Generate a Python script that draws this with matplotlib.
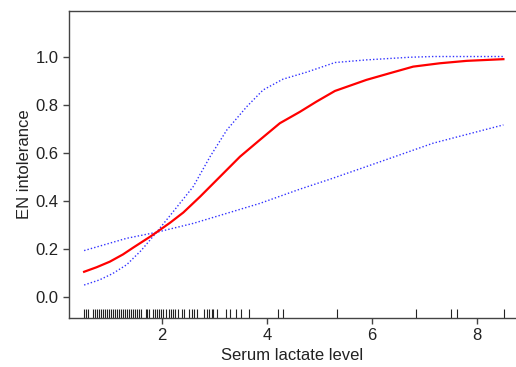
import matplotlib
matplotlib.use("Agg")
import matplotlib.pyplot as plt
import matplotlib.transforms as mtransforms

plt.rcParams['font.family'] = ['Liberation Sans', 'DejaVu Sans']

# Fitted curve (red)
fit_x = [0.51, 0.75, 1.00, 1.25, 1.45, 1.77, 1.89, 2.15, 2.40, 2.72, 3.10, 3.48, 3.86, 4.24, 4.62, 4.94, 5.29, 5.89, 6.34, 6.78, 7.29, 7.80, 8.50]
fit_y = [0.106, 0.125, 0.148, 0.178, 0.207, 0.252, 0.270, 0.310, 0.352, 0.418, 0.501, 0.584, 0.654, 0.723, 0.770, 0.813, 0.857, 0.903, 0.931, 0.958, 0.972, 0.982, 0.989]

# Steep confidence bound (blue)
ci1_x = [0.51, 0.80, 1.05, 1.32, 1.60, 1.89, 2.15, 2.59, 2.91, 3.23, 3.61, 3.92, 4.30, 4.75, 5.29, 5.89, 6.72, 7.16, 8.50]
ci1_y = [0.051, 0.072, 0.098, 0.135, 0.195, 0.270, 0.340, 0.46, 0.584, 0.695, 0.792, 0.861, 0.906, 0.935, 0.975, 0.986, 0.997, 1.0, 1.0]

# Flat confidence bound (blue)
ci2_x = [0.51, 1.32, 1.89, 2.59, 3.86, 4.62, 5.19, 5.89, 7.16, 8.50]
ci2_y = [0.194, 0.245, 0.270, 0.307, 0.39, 0.449, 0.49, 0.543, 0.64, 0.716]

# Rug of observed lactate values
rug = [0.51, 0.55, 0.59, 0.67, 0.72, 0.76, 0.79, 0.83, 0.87, 0.91, 0.95, 0.99, 1.02, 1.06,
       1.10, 1.14, 1.18, 1.21, 1.25, 1.29, 1.33, 1.37, 1.40, 1.44, 1.48, 1.52, 1.56, 1.59,
       1.68, 1.71, 1.75, 1.83, 1.87, 1.90, 1.94, 1.98, 2.02, 2.07, 2.12, 2.16, 2.20, 2.24,
       2.30, 2.37, 2.41, 2.51, 2.56, 2.61, 2.67, 2.80, 2.85, 2.89, 2.94, 2.97, 3.05, 3.21,
       3.29, 3.40, 3.50, 3.66, 4.21, 4.30, 5.32, 6.83, 7.51, 7.61, 8.51]

xticks = [2, 4, 6, 8]
yticks = [0.0, 0.2, 0.4, 0.6, 0.8, 1.0]

fig = plt.figure(figsize=(5.16, 3.67), dpi=100)
ax = fig.add_axes([0.1328, 0.1335, 0.8672, 0.8365])

ax.plot(ci1_x, ci1_y, color='#3333ff', lw=1.0, ls=(0, (1, 1.5)))
ax.plot(ci2_x, ci2_y, color='#3333ff', lw=1.0, ls=(0, (1, 1.5)))
ax.plot(fit_x, fit_y, color='#ff0000', lw=1.6)

trans = mtransforms.blended_transform_factory(ax.transData, ax.transAxes)
ax.vlines(rug, 0.0, 0.029, transform=trans, color='#222222', lw=0.8)

ax.set_xlim(0.213, 8.74)
ax.set_ylim(-0.086, 1.189)
ax.set_xticks(xticks)
ax.set_xticklabels([str(t) for t in xticks])
ax.set_yticks(yticks)
ax.set_yticklabels([f"{t:.1f}" for t in yticks])

for s in ['left', 'bottom', 'top']:
    ax.spines[s].set_color('#444444')
    ax.spines[s].set_linewidth(1.0)
ax.spines['right'].set_visible(False)
ax.tick_params(axis='both', length=4, width=1.0, color='#444444', labelsize=12,
               labelcolor='#222222', pad=3)

ax.set_xlabel('Serum lactate level', fontsize=12, color='#222222', labelpad=4)
ax.set_ylabel('EN intolerance', fontsize=12, color='#222222', labelpad=3)

fig.savefig('out.png', dpi=100)
